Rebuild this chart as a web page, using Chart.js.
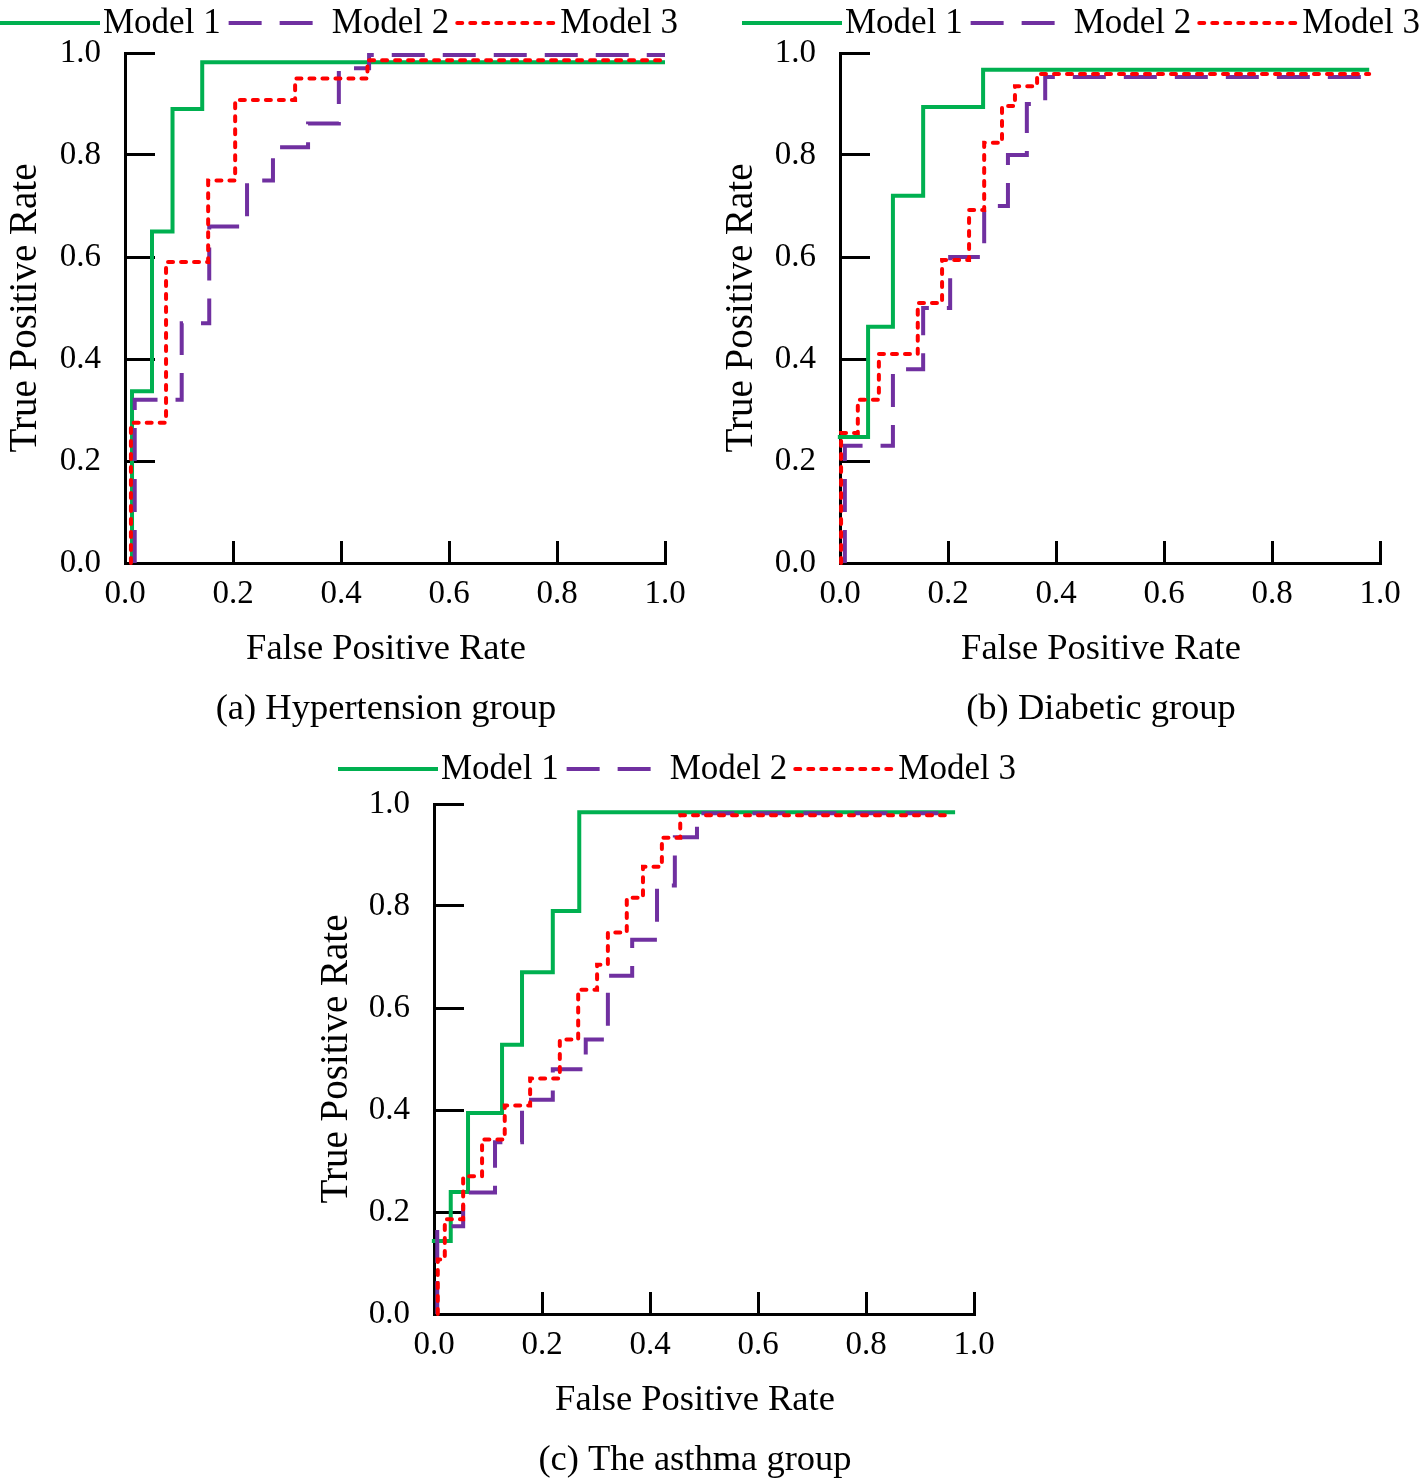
<!DOCTYPE html>
<html>
<head>
<meta charset="utf-8">
<title>ROC curves by group</title>
<script src="https://cdn.jsdelivr.net/npm/chart.js@4.4.1/dist/chart.umd.min.js"></script>
<style>
    html, body { margin: 0; padding: 0; background: #fff; }
    body { position: relative; width: 1421px; height: 1483px; overflow: hidden; }
    canvas { position: absolute; }
</style>
</head>
<body>
<canvas id="roc-a" width="710" height="740" style="left:0;top:0"></canvas>
<canvas id="roc-b" width="709" height="740" style="left:712px;top:0"></canvas>
<canvas id="roc-c" width="720" height="743" style="left:300px;top:740px"></canvas>
<script>
// Axis ticks (shared by all panels)
const xTicks = [0, 0.2, 0.4, 0.6, 0.8, 1.0];
const yTicks = [0, 0.2, 0.4, 0.6, 0.8, 1.0];
const modelNames = ['Model 1', 'Model 2', 'Model 3'];

// (a) Hypertension group - ROC points (FPR, TPR)
const hypFpr1 = [0.013, 0.013, 0.05, 0.088, 0.143, 1.0];
const hypTpr1 = [0, 0.337, 0.65, 0.89, 0.982, 0.982];
const hypFpr2 = [0.018, 0.018, 0.105, 0.156, 0.226, 0.274, 0.339, 0.396, 0.452, 1.0];
const hypTpr2 = [0, 0.32, 0.47, 0.66, 0.75, 0.815, 0.862, 0.97, 0.996, 0.996];
const hypFpr3 = [0.011, 0.011, 0.076, 0.154, 0.204, 0.315, 0.449, 1.0];
const hypTpr3 = [0, 0.275, 0.59, 0.75, 0.908, 0.95, 0.986, 0.986];

// (b) Diabetic group
const diaFpr1 = [-0.004, -0.004, 0.052, 0.098, 0.154, 0.265, 0.98];
const diaTpr1 = [0, 0.247, 0.463, 0.72, 0.894, 0.967, 0.967];
const diaFpr2 = [0.009, 0.009, 0.098, 0.154, 0.204, 0.267, 0.311, 0.346, 0.38, 0.98];
const diaTpr2 = [0, 0.23, 0.38, 0.50, 0.60, 0.70, 0.80, 0.90, 0.953, 0.953];
const diaFpr3 = [0.002, 0.002, 0.033, 0.072, 0.144, 0.189, 0.239, 0.267, 0.3, 0.324, 0.365, 0.98];
const diaTpr3 = [0, 0.255, 0.32, 0.41, 0.51, 0.594, 0.692, 0.824, 0.896, 0.935, 0.959, 0.959];

// (c) The asthma group
const astFpr1 = [-0.004, -0.004, 0.031, 0.063, 0.126, 0.163, 0.22, 0.269, 0.965];
const astTpr1 = [0, 0.143, 0.239, 0.394, 0.528, 0.67, 0.79, 0.984, 0.984];
const astFpr2 = [0.006, 0.006, 0.054, 0.113, 0.163, 0.22, 0.281, 0.322, 0.367, 0.413, 0.446, 0.487, 0.946];
const astTpr2 = [0, 0.172, 0.238, 0.337, 0.42, 0.48, 0.538, 0.663, 0.734, 0.84, 0.935, 0.982, 0.982];
const astFpr3 = [0.007, 0.007, 0.02, 0.054, 0.089, 0.131, 0.178, 0.233, 0.267, 0.302, 0.322, 0.357, 0.387, 0.422, 0.456, 0.946];
const astTpr3 = [0, 0.107, 0.186, 0.27, 0.342, 0.409, 0.462, 0.538, 0.636, 0.685, 0.748, 0.816, 0.877, 0.934, 0.978, 0.978];

const SERIF = '"Liberation Serif", "Times New Roman", serif';
Chart.defaults.font.family = SERIF;
Chart.defaults.color = '#000';

// Line styles per model (green solid, purple dashed, red dotted)
const lineStyles = [
    { borderColor: '#00B050', borderWidth: 4, borderDash: [], borderCapStyle: 'butt', order: 3 },
    { borderColor: '#7030A0', borderWidth: 4, borderDash: [33, 18], borderCapStyle: 'butt', order: 2 },
    { borderColor: '#FF0000', borderWidth: 4, borderDash: [5, 8], borderCapStyle: 'round', order: 1 }
];

function rocDataset(i, fpr, tpr) {
    return Object.assign({
        label: modelNames[i],
        data: fpr.map((x, k) => ({ x: x, y: tpr[k] })),
        stepped: true,
        fill: false,
        pointRadius: 0,
        borderJoinStyle: 'miter',
        clip: false
    }, lineStyles[i]);
}

// Legend row, x-axis title and caption drawn on the canvas
const panelText = {
    id: 'panelText',
    afterDraw(chart, args, opts) {
        const { ctx, chartArea } = chart;
        ctx.save();
        let x = opts.legendX;
        const y = opts.legendY;
        ctx.font = '35px ' + SERIF;
        ctx.textBaseline = 'middle';
        ctx.textAlign = 'left';
        chart.data.datasets.forEach(ds => {
            ctx.beginPath();
            ctx.strokeStyle = ds.borderColor;
            ctx.lineWidth = ds.borderWidth;
            ctx.lineCap = ds.borderCapStyle;
            ctx.setLineDash(ds.borderDash);
            ctx.moveTo(x, y);
            ctx.lineTo(x + 100, y);
            ctx.stroke();
            ctx.setLineDash([]);
            x += 103;
            ctx.fillStyle = '#000';
            ctx.fillText(ds.label, x, y + 1);
            x += ctx.measureText(ds.label).width + 8;
        });
        const cx = (chartArea.left + chartArea.right) / 2 - 9;
        ctx.font = '36.5px ' + SERIF;
        ctx.textAlign = 'center';
        ctx.fillText(opts.xTitle, cx, chartArea.bottom + 86);
        ctx.fillText(opts.caption, cx, chartArea.bottom + 146);
        ctx.restore();
    }
};

function buildRocChart(id, box, datasets, caption) {
    const canvas = document.getElementById(id);
    const axisGrid = (len) => ({
        drawOnChartArea: false,
        drawTicks: true,
        tickLength: len,
        tickWidth: 3,
        tickColor: '#000'
    });
    return new Chart(canvas, {
        type: 'line',
        data: { datasets: datasets },
        options: {
            responsive: false,
            animation: false,
            layout: {
                padding: { top: box.top, right: canvas.width - box.right, left: 0, bottom: 0 }
            },
            plugins: {
                legend: { display: false },
                tooltip: { enabled: false },
                panelText: {
                    legendX: box.legendX,
                    legendY: box.legendY,
                    xTitle: 'False Positive Rate',
                    caption: caption
                }
            },
            scales: {
                x: {
                    type: 'linear',
                    min: 0,
                    max: 1,
                    afterBuildTicks: s => { s.ticks = xTicks.map(v => ({ value: v })); },
                    afterFit: s => {
                        s.height = canvas.height - box.bottom;
                        s.paddingLeft = 0;
                        s.paddingRight = 0;
                    },
                    ticks: {
                        autoSkip: false,
                        maxRotation: 0,
                        padding: 34,
                        font: { size: 33 },
                        callback: v => v.toFixed(1)
                    },
                    grid: axisGrid(-22),
                    border: { display: true, width: 3, color: '#000' }
                },
                y: {
                    type: 'linear',
                    min: 0,
                    max: 1,
                    afterBuildTicks: s => { s.ticks = yTicks.map(v => ({ value: v })); },
                    afterFit: s => {
                        s.width = box.left;
                        s.paddingTop = 0;
                        s.paddingBottom = 0;
                    },
                    ticks: {
                        autoSkip: false,
                        padding: 54,
                        font: { size: 33 },
                        callback: v => v.toFixed(1)
                    },
                    grid: axisGrid(-30),
                    border: { display: true, width: 3, color: '#000' },
                    title: {
                        display: true,
                        text: 'True Positive Rate',
                        font: { size: 39 },
                        padding: { top: box.yTitleX - 23.4, bottom: 0 }
                    }
                }
            }
        },
        plugins: [panelText]
    });
}

buildRocChart('roc-a',
    { left: 125, top: 53, right: 665, bottom: 563, legendX: 0, legendY: 23, yTitleX: 26 },
    [rocDataset(0, hypFpr1, hypTpr1), rocDataset(1, hypFpr2, hypTpr2), rocDataset(2, hypFpr3, hypTpr3)],
    '(a) Hypertension group');

buildRocChart('roc-b',
    { left: 128, top: 53, right: 668, bottom: 563, legendX: 30, legendY: 23, yTitleX: 30 },
    [rocDataset(0, diaFpr1, diaTpr1), rocDataset(1, diaFpr2, diaTpr2), rocDataset(2, diaFpr3, diaTpr3)],
    '(b) Diabetic group');

buildRocChart('roc-c',
    { left: 134, top: 64, right: 674, bottom: 574, legendX: 38, legendY: 29, yTitleX: 37 },
    [rocDataset(0, astFpr1, astTpr1), rocDataset(1, astFpr2, astTpr2), rocDataset(2, astFpr3, astTpr3)],
    '(c) The asthma group');
</script>
</body>
</html>
